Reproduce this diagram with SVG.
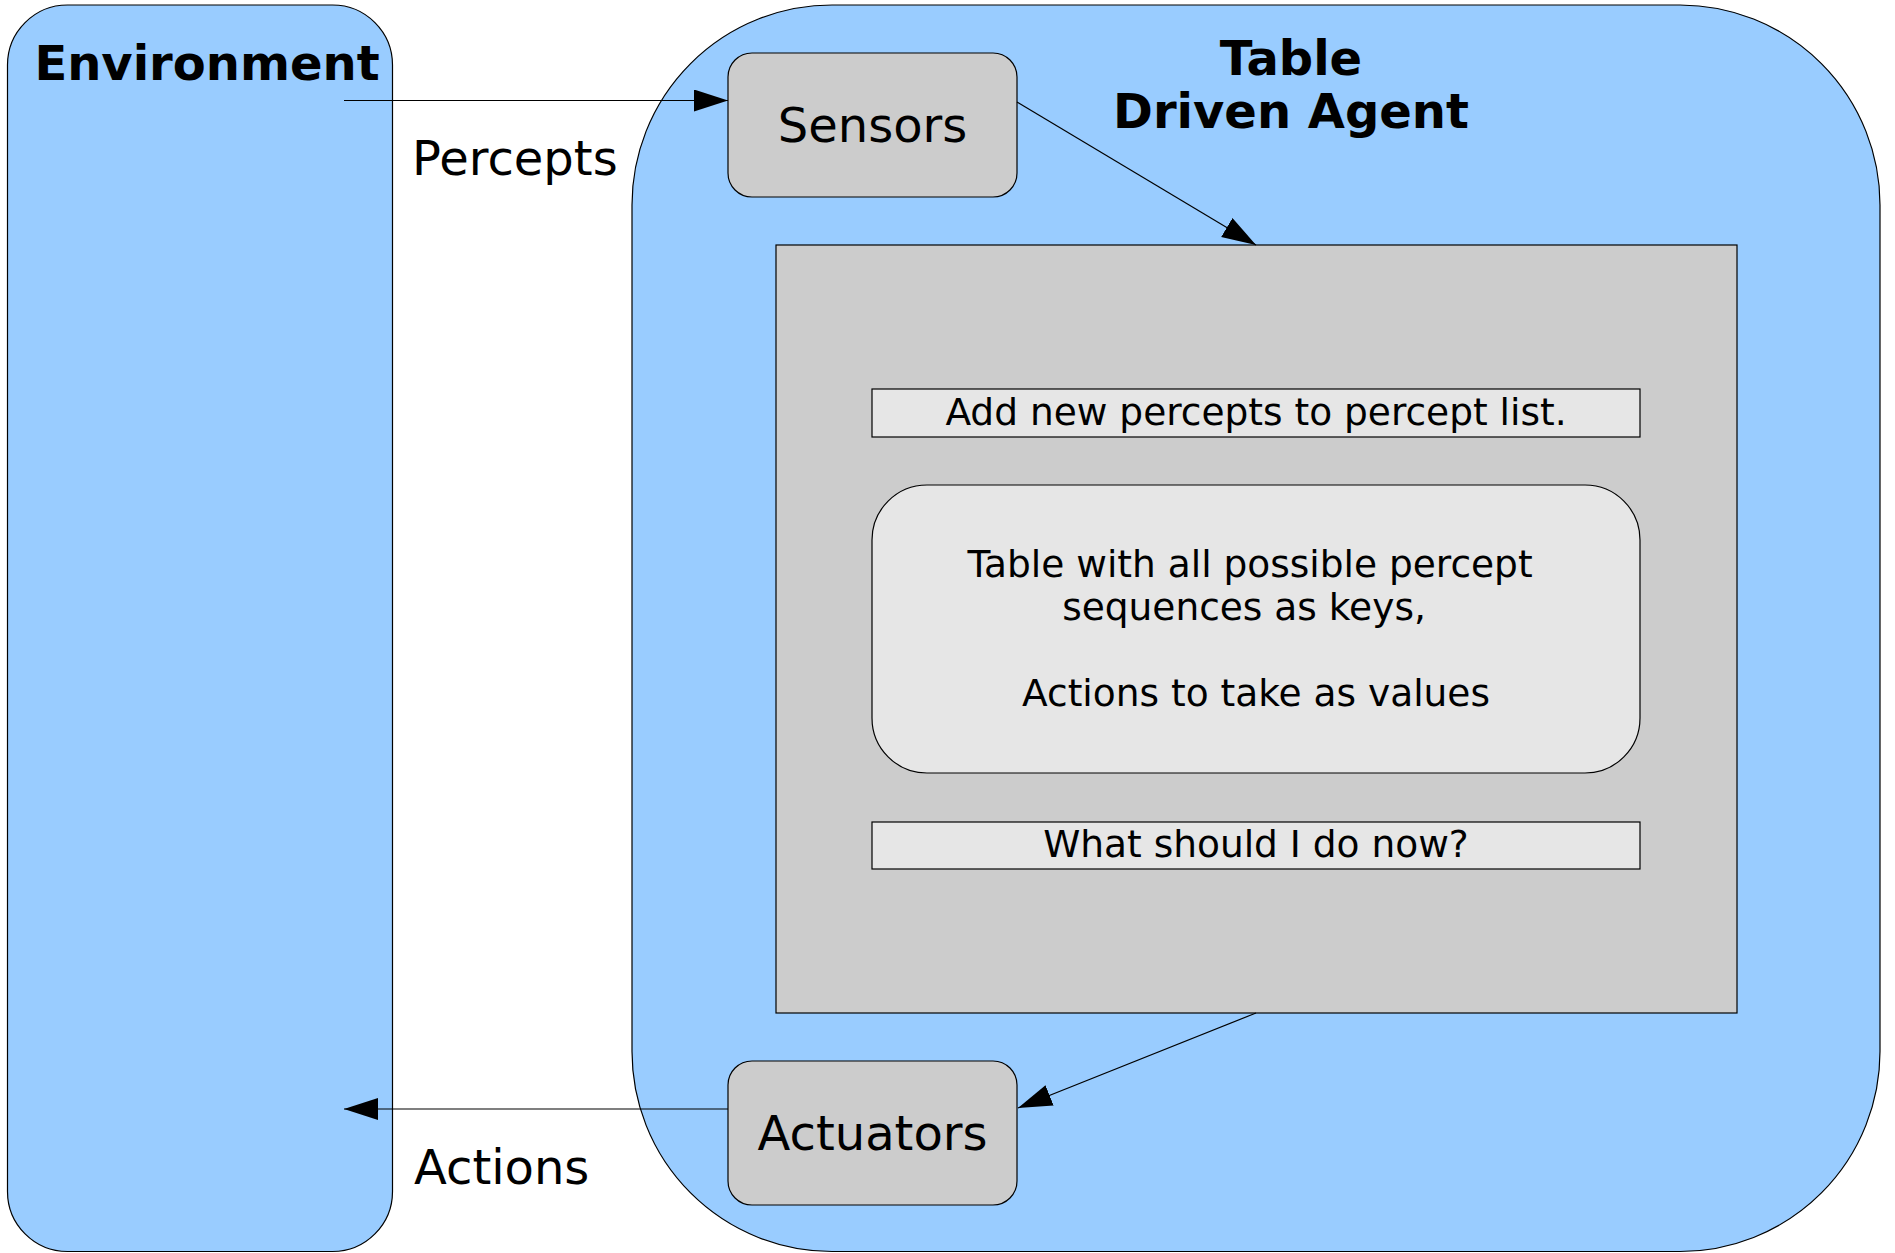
<svg xmlns="http://www.w3.org/2000/svg" width="1895" height="1253" viewBox="0 0 1895 1253">
  <style>
    .frame { fill: #99ccff; stroke: #000000; stroke-width: 1.2; }
    .part { fill: #cccccc; stroke: #000000; stroke-width: 1.2; }
    .step { fill: #e6e6e6; stroke: #000000; stroke-width: 1.2; }
    .title { font-family: "DejaVu Sans", sans-serif; font-weight: bold; font-size: 48px; fill: #000000; text-anchor: middle; }
    .label { font-family: "DejaVu Sans", sans-serif; font-size: 48px; fill: #000000; }
    .body { font-family: "DejaVu Sans", sans-serif; font-size: 37.5px; fill: #000000; text-anchor: middle; }
    .link { stroke: #000000; stroke-width: 1.2; fill: none; marker-end: url(#head); }
  </style>
  <defs>
    <marker id="head" markerUnits="userSpaceOnUse" markerWidth="36" markerHeight="24" refX="34" refY="11" orient="auto" viewBox="0 0 36 24">
      <path d="M0,0 L34,11 L0,22 Z" fill="#000000"/>
    </marker>
  </defs>
  <rect width="1895" height="1253" fill="#ffffff"/>

  <g id="environment">
    <rect class="frame" x="7.5" y="5" width="385" height="1246.5" rx="60" ry="60"/>
    <text class="title" x="207" y="80">Environment</text>
  </g>

  <g id="agent">
    <rect class="frame" x="632" y="5" width="1248" height="1246.5" rx="200" ry="200"/>
    <text class="title" x="1291" y="75">Table</text>
    <text class="title" x="1291" y="128">Driven Agent</text>
  </g>

  <g id="sensors">
    <rect class="part" x="728" y="53" width="289" height="144" rx="24" ry="24"/>
    <text class="label" x="872.5" y="142" text-anchor="middle">Sensors</text>
  </g>

  <g id="actuators">
    <rect class="part" x="728" y="1061" width="289" height="144" rx="24" ry="24"/>
    <text class="label" x="872.5" y="1150" text-anchor="middle">Actuators</text>
  </g>

  <g id="program">
    <rect class="part" x="776" y="245" width="961" height="768"/>
  </g>

  <g id="update-percepts">
    <rect class="step" x="872" y="389" width="768" height="48"/>
    <text class="body" x="1256" y="425">Add new percepts to percept list.</text>
  </g>

  <g id="lookup-table">
    <rect class="step" x="872" y="485" width="768" height="288" rx="55" ry="55"/>
    <text class="body" x="1250" y="577">Table with all possible percept</text>
    <text class="body" x="1244" y="620">sequences as keys,</text>
    <text class="body" x="1256" y="706">Actions to take as values</text>
  </g>

  <g id="choose-action">
    <rect class="step" x="872" y="822" width="768" height="47"/>
    <text class="body" x="1256" y="857">What should I do now?</text>
  </g>

  <g id="connectors">
    <line class="link" x1="344" y1="100.5" x2="728" y2="100.5"/>
    <text class="label" x="412" y="175">Percepts</text>
    <line class="link" x1="1017" y1="102" x2="1256" y2="245"/>
    <line class="link" x1="1256" y1="1013" x2="1018" y2="1108"/>
    <line class="link" x1="728" y1="1109" x2="344" y2="1109"/>
    <text class="label" x="414" y="1184">Actions</text>
  </g>
</svg>
